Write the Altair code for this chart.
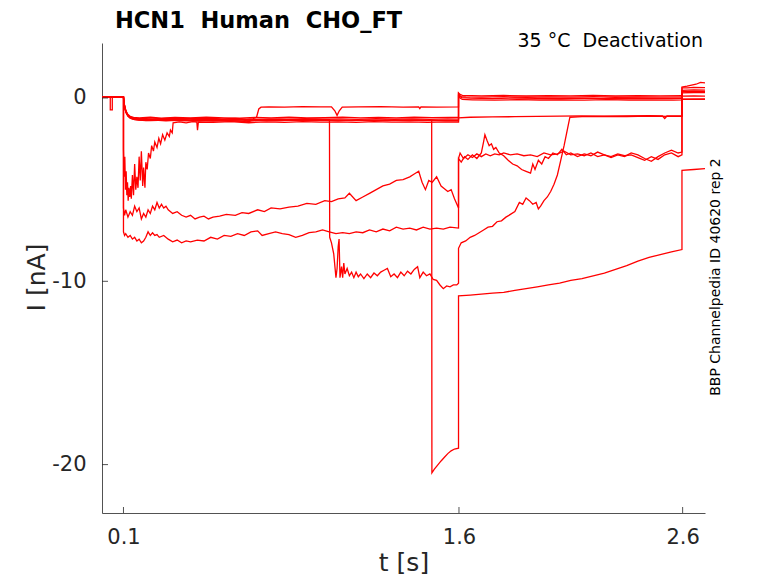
import altair as alt
import pandas as pd

# ---------------- data (t [s], I [nA]) ----------------
x_tick_values = [0.1, 1.6, 2.6]
y_tick_values = [-20, -10, 0]

title_text = "HCN1\u00a0 Human\u00a0 CHO_FT"
cond_text = "35 °C\u00a0 Deactivation"
id_text = "BBP Channelpedia ID 40620 rep 2"

trace_A = [(0.005,0.05),(0.03,0.06),(0.06,0.05),(0.099,0.06),
(0.1,0.06),(0.1,-7.3),(0.105,-7.5),(0.11,-7.4),(0.12,-7.6),(0.13,-7.5),(0.14,-7.7),(0.15,-7.6),(0.16,-7.8),(0.17,-7.7),(0.18,-7.9),(0.19,-7.8),(0.2,-7.6),(0.21,-7.3),(0.22,-7.5),(0.23,-7.35),(0.24,-7.5),(0.25,-7.45),(0.26,-7.6),(0.28,-7.5),(0.3,-7.7),(0.32,-7.85),(0.34,-7.75),(0.36,-7.9),(0.38,-7.8),(0.4,-7.85),(0.43,-7.75),(0.46,-7.8),(0.49,-7.6),(0.52,-7.7),(0.55,-7.5),(0.58,-7.55),(0.61,-7.4),(0.64,-7.5),(0.67,-7.3),(0.7,-7.25),(0.72,-7.5),(0.75,-7.4),(0.78,-7.3),(0.81,-7.4),(0.84,-7.45),(0.87,-7.6),(0.9,-7.5),(0.93,-7.35),(0.96,-7.3),(0.99,-7.2),(1.02,-7.3),(1.05,-7.4),(1.08,-7.35),(1.11,-7.4),(1.14,-7.3),(1.17,-7.35),(1.2,-7.2),(1.23,-7.3),(1.26,-7.15),(1.29,-7.25),(1.32,-7.05),(1.35,-7.15),(1.38,-7.1),(1.41,-7.2),(1.44,-7.05),(1.47,-7.15),(1.5,-7.1),(1.53,-7.15),(1.56,-7.05),(1.598,-7.1),
(1.598,-3.3),(1.605,-3.0),(1.62,-3.3),(1.64,-3.1),(1.66,-3.25),(1.68,-3.05),(1.7,-3.2),(1.72,-3.05),(1.74,-3.15),(1.76,-3.05),(1.78,-3.1),(1.8,-3.0),(1.83,-3.1),(1.86,-3.05),(1.89,-3.15),(1.92,-3.1),(1.95,-3.2),(1.98,-3.0),(2.01,-3.1),(2.04,-3.05),(2.07,-2.9),(2.1,-3.1),(2.13,-3.05),(2.16,-3.15),(2.19,-3.0),(2.22,-3.2),(2.25,-3.1),(2.28,-3.2),(2.31,-3.05),(2.34,-3.15),(2.37,-3.1),(2.4,-3.25),(2.43,-3.4),(2.46,-3.2),(2.49,-3.35),(2.52,-3.1),(2.55,-3.0),(2.58,-3.2),(2.597,-3.1),
(2.597,0.55),(2.62,0.55),(2.65,0.58),(2.7,0.57)]

trace_C = [(0.005,0.05),(0.03,0.05),(0.06,0.06),(0.099,0.05),
(0.1,0.05),(0.1,-6.0),(0.105,-6.4),(0.11,-6.1),(0.12,-6.5),(0.13,-6.2),(0.14,-6.4),(0.15,-5.9),(0.16,-6.2),(0.17,-6.0),(0.18,-6.6),(0.19,-6.3),(0.2,-6.5),(0.21,-6.1),(0.22,-6.3),(0.23,-5.9),(0.24,-6.1),(0.25,-5.7),(0.26,-6.0),(0.27,-5.8),(0.28,-6.0),(0.29,-5.9),(0.3,-6.1),(0.32,-6.3),(0.34,-6.2),(0.36,-6.4),(0.38,-6.5),(0.4,-6.4),(0.42,-6.6),(0.44,-6.5),(0.46,-6.45),(0.48,-6.6),(0.5,-6.5),(0.53,-6.45),(0.56,-6.35),(0.6,-6.4),(0.63,-6.25),(0.66,-6.3),(0.7,-6.1),(0.73,-6.2),(0.76,-6.0),(0.8,-6.05),(0.84,-5.95),(0.88,-5.9),(0.92,-5.75),(0.96,-5.8),(1.0,-5.6),(1.03,-5.65),(1.06,-5.5),(1.09,-5.45),(1.11,-5.2),(1.14,-5.6),(1.17,-5.4),(1.2,-5.2),(1.23,-5.0),(1.26,-4.8),(1.29,-4.7),(1.32,-4.5),(1.35,-4.45),(1.38,-4.3),(1.4,-4.15),(1.42,-4.0),(1.435,-4.6),(1.45,-5.0),(1.465,-4.5),(1.48,-4.6),(1.5,-4.3),(1.52,-4.8),(1.535,-4.95),(1.55,-5.1),(1.565,-5.0),(1.58,-5.5),(1.598,-6.0),
(1.598,-3.3),(1.61,-3.5),(1.625,-3.2),(1.64,-3.35),(1.66,-3.1),(1.68,-3.3),(1.7,-3.0),(1.71,-2.4),(1.716,-2.0),(1.725,-2.3),(1.735,-2.6),(1.745,-2.5),(1.755,-2.8),(1.765,-2.7),(1.78,-3.0),(1.8,-3.15),(1.82,-3.4),(1.84,-3.6),(1.86,-3.7),(1.88,-3.9),(1.9,-4.0),(1.92,-4.1),(1.93,-3.6),(1.94,-3.9),(1.955,-3.4),(1.97,-3.6),(1.985,-3.2),(2.0,-3.3),(2.02,-3.0),(2.04,-3.1),(2.06,-2.8),(2.08,-3.1),(2.1,-3.0),(2.13,-3.2),(2.16,-3.05),(2.19,-3.15),(2.22,-2.95),(2.25,-3.1),(2.28,-3.25),(2.31,-3.1),(2.34,-3.2),(2.37,-3.0),(2.4,-3.1),(2.43,-3.3),(2.46,-3.45),(2.49,-3.2),(2.52,-3.0),(2.55,-2.85),(2.58,-3.0),(2.597,-2.95),
(2.597,0.6),(2.62,0.65),(2.64,0.7),(2.66,0.75),(2.68,0.85),(2.7,0.82)]

trace_B = [(0.005,0.05),(0.03,0.04),(0.06,0.06),(0.099,0.05),
(0.1,0.05),(0.103,-0.31),(0.107,-0.57),(0.112,-0.77),(0.12,-0.95),(0.13,-1.06),(0.145,-1.13),(0.17,-1.17),
(0.24,-1.19),(0.32,-1.15),(0.4,-1.2),(0.48,-1.16),(0.56,-1.19),(0.64,-1.17),(0.72,-1.2),(0.8,-1.16),(0.88,-1.18),(0.96,-1.15),(1.021,-1.18),
(1.022,-7.6),(1.03,-7.9),(1.04,-8.5),(1.05,-9.8),(1.055,-9.3),(1.06,-8.1),(1.064,-7.7),(1.068,-9.8),(1.075,-9.2),(1.08,-9.8),(1.085,-9.0),(1.09,-9.6),(1.1,-9.3),(1.11,-9.7),(1.12,-9.5),(1.13,-9.8),(1.14,-9.5),(1.15,-9.75),(1.16,-9.6),(1.175,-9.85),(1.19,-9.6),(1.205,-9.8),(1.22,-9.55),(1.235,-9.7),(1.25,-9.5),(1.265,-9.4),(1.28,-9.3),(1.295,-9.75),(1.31,-9.6),(1.325,-9.8),(1.34,-9.5),(1.355,-9.7),(1.37,-9.45),(1.385,-9.6),(1.4,-9.35),(1.415,-9.2),(1.425,-9.8),(1.44,-9.5),(1.455,-9.7),(1.47,-9.6),(1.485,-9.9),(1.5,-9.95),(1.515,-10.2),(1.53,-10.4),(1.545,-10.25),(1.56,-10.3),(1.575,-10.2),(1.59,-10.2),(1.598,-10.1),
(1.598,-8.2),(1.61,-7.9),(1.63,-7.8),(1.65,-7.6),(1.67,-7.5),(1.69,-7.35),(1.71,-7.2),(1.73,-7.05),(1.75,-7.0),(1.77,-6.75),(1.79,-6.7),(1.81,-6.5),(1.83,-6.35),(1.85,-6.2),(1.87,-5.7),(1.885,-5.8),(1.9,-5.45),(1.915,-5.6),(1.93,-5.8),(1.945,-5.7),(1.955,-6.05),(1.965,-5.9),(1.98,-5.6),(1.995,-5.4),(2.01,-5.1),(2.025,-4.7),(2.04,-4.2),(2.055,-3.4),(2.07,-2.6),(2.08,-2.0),(2.09,-1.4),(2.096,-1.05),
(2.15,-1.02),(2.25,-1.0),(2.35,-1.01),(2.45,-0.99),(2.55,-1.0),(2.597,-1.0),
(2.597,0.42),(2.65,0.44),(2.7,0.43)]

trace_D = [(0.005,0.05),(0.03,0.06),(0.06,0.04),(0.099,0.05),
(0.1,0.05),(0.1,-2.8),(0.103,-4.3),(0.106,-3.2),(0.109,-5.0),(0.112,-4.0),(0.115,-5.3),(0.118,-4.6),(0.121,-5.6),(0.124,-4.9),(0.128,-5.4),(0.132,-4.8),(0.135,-5.5),(0.14,-4.2),(0.145,-5.3),(0.15,-3.6),(0.155,-5.0),(0.16,-4.3),(0.165,-4.9),(0.17,-3.2),(0.175,-4.5),(0.18,-2.9),(0.186,-4.8),(0.19,-3.8),(0.196,-4.9),(0.2,-3.5),(0.206,-3.9),(0.212,-3.0),(0.22,-3.3),(0.226,-2.6),(0.234,-2.9),(0.24,-2.4),(0.25,-2.7),(0.258,-2.2),(0.266,-2.5),(0.275,-2.0),(0.285,-2.3),(0.295,-1.9),(0.305,-2.1),(0.31,-1.75),(0.318,-1.9),(0.322,-1.35),
(0.35,-1.3),(0.38,-1.36),(0.41,-1.29),(0.428,-1.32),(0.431,-1.75),(0.435,-1.31),(0.5,-1.33),(0.58,-1.29),(0.66,-1.35),(0.74,-1.3),(0.82,-1.33),(0.9,-1.29),(0.98,-1.32),(1.06,-1.3),(1.14,-1.33),(1.22,-1.29),(1.3,-1.32),(1.38,-1.3),(1.46,-1.33),(1.54,-1.3),(1.598,-1.31),
(1.598,-1.08),(1.65,-1.05),(1.75,-1.03),(1.85,-1.02),(1.95,-1.0),(2.05,-0.99),(2.15,-0.98),(2.25,-0.99),(2.35,-0.98),(2.45,-0.97),(2.51,-0.98),(2.52,-1.12),(2.53,-0.98),(2.597,-0.97),
(2.597,0.35),(2.65,0.36),(2.7,0.35)]

trace_E = [(0.005,0.05),(0.03,0.05),(0.06,0.06),(0.099,0.05),
(0.1,0.05),(0.103,-0.33),(0.107,-0.6),(0.112,-0.8),(0.12,-0.98),(0.13,-1.09),(0.145,-1.16),(0.17,-1.2),
(0.22,-1.24),(0.29,-1.2),(0.36,-1.25),(0.43,-1.22),(0.5,-1.26),(0.57,-1.23),(0.64,-1.25),(0.71,-1.21),(0.78,-1.24),(0.85,-1.2),(0.92,-1.23),(0.99,-1.21),(1.06,-1.24),(1.13,-1.21),(1.2,-1.23),(1.27,-1.2),(1.34,-1.22),(1.41,-1.2),(1.478,-1.22),
(1.479,-20.45),(1.49,-20.25),(1.5,-20.1),(1.51,-19.95),(1.52,-19.8),(1.535,-19.6),(1.55,-19.4),(1.565,-19.25),(1.58,-19.15),(1.598,-19.1),
(1.598,-10.8),(1.65,-10.75),(1.7,-10.7),(1.75,-10.65),(1.8,-10.6),(1.85,-10.5),(1.9,-10.4),(1.95,-10.3),(2.0,-10.2),(2.05,-10.1),(2.1,-9.95),(2.15,-9.85),(2.2,-9.7),(2.25,-9.55),(2.3,-9.35),(2.35,-9.15),(2.4,-8.9),(2.45,-8.7),(2.5,-8.55),(2.55,-8.4),(2.597,-8.27),
(2.597,-3.95),(2.65,-3.9),(2.7,-3.85)]

trace_F = [(0.005,0.06),(0.03,0.05),(0.06,0.06),(0.099,0.05),
(0.1,0.05),(0.103,-0.3),(0.107,-0.55),(0.112,-0.76),(0.12,-0.93),(0.13,-1.04),(0.145,-1.1),(0.17,-1.12),
(0.23,-1.14),(0.3,-1.11),(0.38,-1.13),(0.46,-1.1),(0.54,-1.14),(0.6,-1.12),(0.65,-1.15),(0.68,-1.12),(0.695,-1.05),(0.705,-0.6),(0.715,-0.5),(0.75,-0.48),(0.82,-0.5),(0.9,-0.47),(0.98,-0.49),(1.03,-0.48),(1.045,-0.7),(1.055,-0.95),(1.065,-0.7),(1.078,-0.5),(1.15,-0.49),(1.25,-0.47),(1.35,-0.5),(1.42,-0.48),(1.425,-0.58),(1.43,-0.49),(1.5,-0.5),(1.598,-0.49),
(1.598,0.28),(1.604,0.2),(1.615,0.14),(1.7,0.12),(1.8,0.14),(1.9,0.11),(2.0,0.13),(2.1,0.12),(2.2,0.14),(2.3,0.11),(2.4,0.13),(2.5,0.12),(2.597,0.13),
(2.597,0.1),(2.65,0.11),(2.7,0.1)]

trace_G = [(0.005,0.05),(0.02,0.06),(0.041,0.05),(0.041,-0.65),(0.05,-0.65),(0.05,0.05),(0.07,0.06),(0.099,0.05),
(0.1,0.05),(0.103,-0.28),(0.107,-0.52),(0.112,-0.72),(0.12,-0.9),(0.13,-1.0),(0.145,-1.06),(0.17,-1.08),
(0.22,-1.05),(0.27,-1.1),(0.33,-1.06),(0.4,-1.09),(0.47,-1.05),(0.55,-1.08),(0.62,-1.1),(0.69,-1.06),(0.76,-1.08),(0.84,-1.05),(0.92,-1.09),(1.0,-1.07),(1.08,-1.04),(1.16,-1.08),(1.24,-1.06),(1.32,-1.09),(1.4,-1.05),(1.48,-1.07),(1.56,-1.06),(1.598,-1.05),
(1.598,0.26),(1.603,0.14),(1.61,0.08),(1.63,0.06),(1.7,0.05),(1.8,0.07),(1.9,0.04),(2.0,0.06),(2.1,0.05),(2.2,0.07),(2.3,0.04),(2.4,0.06),(2.5,0.05),(2.597,0.05),
(2.597,-0.05),(2.65,-0.06),(2.7,-0.05)]

trace_H = [(0.005,0.04),(0.03,0.06),(0.06,0.05),(0.099,0.06),
(0.1,0.06),(0.103,-0.32),(0.107,-0.58),(0.112,-0.78),(0.12,-0.95),(0.13,-1.06),(0.145,-1.12),(0.17,-1.15),
(0.21,-1.18),(0.26,-1.13),(0.31,-1.17),(0.37,-1.14),(0.44,-1.18),(0.5,-1.15),(0.57,-1.19),(0.63,-1.16),(0.66,-1.3),(0.68,-1.17),(0.75,-1.14),(0.83,-1.17),(0.91,-1.13),(0.99,-1.16),(1.07,-1.14),(1.15,-1.17),(1.23,-1.13),(1.31,-1.16),(1.39,-1.14),(1.47,-1.17),(1.55,-1.14),(1.598,-1.15),
(1.598,0.22),(1.604,0.1),(1.612,0.02),(1.65,-0.01),(1.75,-0.03),(1.85,0.0),(1.95,-0.02),(2.05,-0.04),(2.15,-0.01),(2.25,-0.03),(2.35,0.0),(2.45,-0.02),(2.55,-0.03),(2.597,-0.02),
(2.597,0.28),(2.65,0.3),(2.7,0.29)]

trace_I = [(0.005,0.05),(0.03,0.04),(0.06,0.06),(0.099,0.05),
(0.1,0.05),(0.103,-0.35),(0.107,-0.62),(0.112,-0.82),(0.12,-1.0),(0.13,-1.1),(0.145,-1.17),(0.17,-1.2),
(0.2,-1.24),(0.24,-1.2),(0.29,-1.25),(0.35,-1.21),(0.42,-1.26),(0.49,-1.22),(0.56,-1.25),(0.64,-1.27),(0.72,-1.22),(0.8,-1.24),(0.88,-1.2),(0.96,-1.23),(1.04,-1.21),(1.12,-1.24),(1.2,-1.2),(1.28,-1.23),(1.36,-1.21),(1.44,-1.24),(1.52,-1.22),(1.598,-1.23),
(1.598,0.18),(1.605,0.0),(1.615,-0.08),(1.66,-0.1),(1.76,-0.12),(1.86,-0.09),(1.96,-0.11),(2.06,-0.1),(2.16,-0.12),(2.26,-0.09),(2.36,-0.11),(2.46,-0.1),(2.56,-0.12),(2.597,-0.1),
(2.597,-0.08),(2.65,-0.07),(2.7,-0.08)]

traces = {"A": trace_A, "B": trace_B, "C": trace_C, "D": trace_D, "E": trace_E,
          "F": trace_F, "G": trace_G, "H": trace_H, "I": trace_I}

# ---------------- build table ----------------
rows = []
for name, pts in traces.items():
    for k, (t, i) in enumerate(pts):
        rows.append({"trace": name, "k": k, "t": t, "i": i})
df = pd.DataFrame(rows)

W, H = 603, 470
AX = "#262626"
FONT = "DejaVu Sans"

x_scale = alt.Scale(domain=[0.004, 2.7], nice=False, zero=False)
y_scale = alt.Scale(domain=[-22.64, 3.0], nice=False, zero=False)

x_axis = alt.Axis(values=x_tick_values, format=".1f", tickSize=0, grid=False,
                  domainColor=AX, domainWidth=0.8, labelColor=AX, labelFont=FONT,
                  labelFontSize=21, labelPadding=13, title="t [s]", titleFont=FONT,
                  titleFontSize=25, titleFontWeight="normal", titleColor=AX,
                  titleX=W / 2, titleY=57, titleAlign="center", titleBaseline="alphabetic")
y_axis = alt.Axis(values=y_tick_values, labelExpr="'' + datum.value", tickSize=0, grid=False,
                  domainColor=AX, domainWidth=0.8, labelColor=AX, labelFont=FONT,
                  labelFontSize=21, labelPadding=16, title="I [nA]", titleFont=FONT,
                  titleFontSize=25, titleFontWeight="normal", titleColor=AX,
                  titleX=-66, titleY=H / 2 - 1, titleAlign="center", titleBaseline="middle",
                  titleAngle=270)

lines = alt.Chart(df).mark_line(color="#ff0000", strokeWidth=1.3, clip=True).encode(
    x=alt.X("t:Q", scale=x_scale, axis=x_axis),
    y=alt.Y("i:Q", scale=y_scale, axis=y_axis),
    detail="trace:N",
    order="k:Q",
)

xticks = alt.Chart(pd.DataFrame({"t": x_tick_values})).mark_rule(color=AX, strokeWidth=0.8).encode(
    x=alt.X("t:Q", scale=x_scale, axis=x_axis),
    y=alt.value(H), y2=alt.value(H - 6),
)
yticks = alt.Chart(pd.DataFrame({"i": y_tick_values})).mark_rule(color=AX, strokeWidth=0.8).encode(
    y=alt.Y("i:Q", scale=y_scale, axis=y_axis),
    x=alt.value(0), x2=alt.value(6),
)

title_layer = alt.Chart(pd.DataFrame({"label": [title_text]})).mark_text(
    font=FONT, fontSize=22.5, fontWeight="bold", align="left", baseline="middle", color="#000000"
).encode(x=alt.value(13), y=alt.value(-22), text="label:N")

cond_layer = alt.Chart(pd.DataFrame({"label": [cond_text]})).mark_text(
    font=FONT, fontSize=19, align="right", baseline="middle", color="#000000"
).encode(x=alt.value(601), y=alt.value(-2), text="label:N")

id_layer = alt.Chart(pd.DataFrame({"label": [id_text]})).mark_text(
    font=FONT, fontSize=14, align="center", baseline="middle", angle=270, color="#000000"
).encode(x=alt.value(614), y=alt.value(234), text="label:N")

chart = alt.layer(lines, xticks, yticks, title_layer, cond_layer, id_layer).properties(
    width=W, height=H,
    padding={"left": 94, "top": 35, "right": 40, "bottom": 66},
    autosize=alt.AutoSizeParams(type="none"),
).configure_view(strokeWidth=0)

chart.save("out.html", embed_options={"renderer": "svg", "actions": False})
